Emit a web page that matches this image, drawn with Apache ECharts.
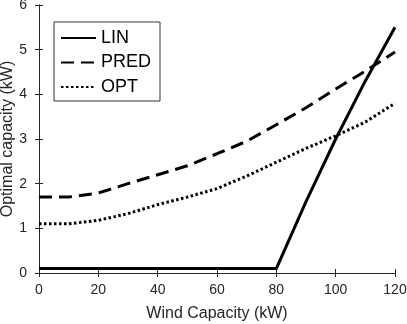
<!DOCTYPE html>
<html>
<head>
<meta charset="utf-8">
<script src="https://cdn.jsdelivr.net/npm/echarts@6/dist/echarts.min.js"></script>
<style>
  html, body { margin: 0; padding: 0; background: #fff; }
  #chart { width: 407px; height: 324px; }
</style>
</head>
<body>
<div id="chart"></div>
<script>
// wind capacity (kW)
const windCap = [0, 10, 20, 30, 40, 50, 60, 70, 80, 90, 100, 110, 120];
// optimal capacity (kW) per method
const linVals  = [0.1, 0.1, 0.1, 0.1, 0.1, 0.1, 0.1, 0.1, 0.1, 1.6, 3.0, 4.3, 5.5];
const predVals = [1.7, 1.7, 1.79, 2.0, 2.2, 2.4, 2.67, 2.95, 3.32, 3.7, 4.12, 4.52, 4.95];
const optVals  = [1.1, 1.1, 1.18, 1.33, 1.53, 1.7, 1.89, 2.17, 2.48, 2.79, 3.07, 3.38, 3.8];

const font = 'Liberation Sans, Arial, sans-serif';

const pairs = (ys) => windCap.map((x, i) => [x, ys[i]]);

const chart = echarts.init(document.getElementById('chart'), null, { renderer: 'canvas' });

const axisLine = { show: true, lineStyle: { color: '#262626', width: 1 } };
const axisTick = { show: true, inside: true, length: 4, lineStyle: { color: '#262626' } };

chart.setOption({
  animation: false,
  grid: { left: 39, right: 12, top: 5, bottom: 51, outerBoundsMode: 'none', containLabel: false },
  legend: {
    orient: 'vertical',
    left: 54,
    top: 22,
    padding: [7, 9, 5, 6],
    itemGap: 6.5,
    itemWidth: 35,
    itemHeight: 18,
    borderColor: '#333',
    borderWidth: 1,
    itemStyle: { opacity: 0 },
    textStyle: { fontFamily: font, fontSize: 18, color: '#000' },
    data: ['LIN', 'PRED', 'OPT']
  },
  xAxis: [{
    type: 'value',
    min: 0, max: 120, interval: 20,
    name: 'Wind Capacity (kW)',
    nameLocation: 'middle',
    nameGap: 33,
    nameMoveOverlap: false,
    nameTextStyle: { fontFamily: font, fontSize: 16, color: '#262626' },
    axisLine, axisTick,
    axisLabel: { fontFamily: font, fontSize: 14, color: '#262626', margin: 10 },
    splitLine: { show: false }
  }, {
    type: 'value', position: 'top',
    min: 0, max: 120, interval: 20,
    axisLine, axisTick,
    axisLabel: { show: false },
    splitLine: { show: false }
  }],
  yAxis: [{
    type: 'value',
    min: 0, max: 6, interval: 1,
    name: 'Optimal capacity (kW)',
    nameLocation: 'middle',
    nameGap: 23,
    nameMoveOverlap: false,
    nameTextStyle: { fontFamily: font, fontSize: 16, color: '#262626' },
    axisLine, axisTick,
    axisLabel: { fontFamily: font, fontSize: 14, color: '#262626', margin: 12 },
    splitLine: { show: false }
  }, {
    type: 'value', position: 'right',
    min: 0, max: 6, interval: 1,
    axisLine, axisTick,
    axisLabel: { show: false },
    splitLine: { show: false }
  }],
  series: [{
    name: 'LIN',
    type: 'line',
    data: pairs(linVals),
    showSymbol: false,
    symbol: 'none',
    lineStyle: { color: '#000', width: 3 },
    itemStyle: { color: '#000' }
  }, {
    name: 'PRED',
    type: 'line',
    data: pairs(predVals),
    showSymbol: false,
    symbol: 'none',
    lineStyle: { color: '#000', width: 3, type: [13, 7] },
    itemStyle: { color: '#000' }
  }, {
    name: 'OPT',
    type: 'line',
    data: pairs(optVals),
    showSymbol: false,
    symbol: 'none',
    lineStyle: { color: '#000', width: 3, type: [2.5, 2.5] },
    itemStyle: { color: '#000' }
  }]
});
</script>
</body>
</html>
